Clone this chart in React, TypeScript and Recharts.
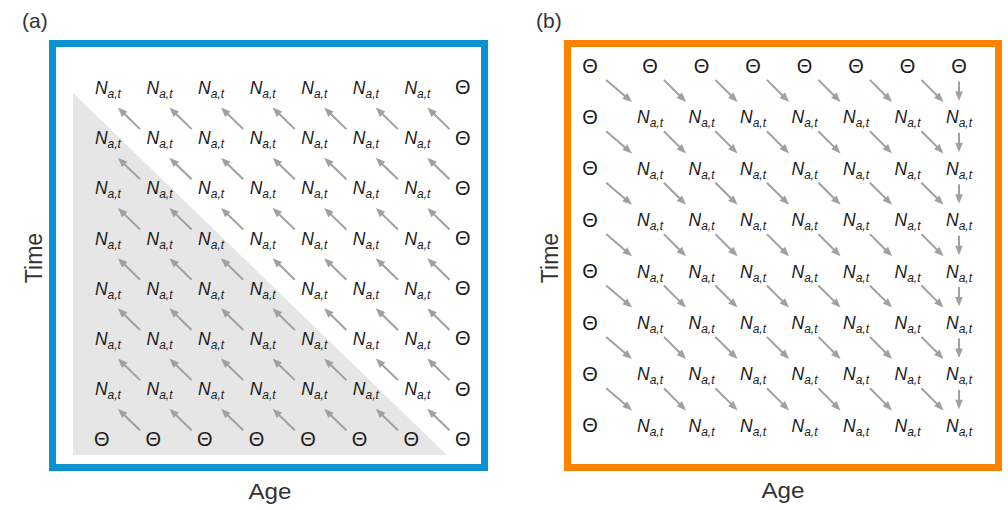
import React from "react";
import {
  ScatterChart,
  Scatter,
  XAxis,
  YAxis,
  ReferenceArea,
  ReferenceLine,
} from "recharts";

const FONT = "'Liberation Sans', Arial, Helvetica, sans-serif";

// age columns (left to right) and time rows (row 1 = top)
const ages = [1, 2, 3, 4, 5, 6, 7, 8];
const times = [1, 2, 3, 4, 5, 6, 7, 8];

// cell symbols, one string per row from the top: N = N_{a,t}, T = Theta
const gridA = [
  "NNNNNNNT",
  "NNNNNNNT",
  "NNNNNNNT",
  "NNNNNNNT",
  "NNNNNNNT",
  "NNNNNNNT",
  "NNNNNNNT",
  "TTTTTTTT",
];
const gridB = [
  "TTTTTTTT",
  "TNNNNNNN",
  "TNNNNNNN",
  "TNNNNNNN",
  "TNNNNNNN",
  "TNNNNNNN",
  "TNNNNNNN",
  "TNNNNNNN",
];

// shaded triangle in (a), in age / time units
const shadeAge = [0.4, 7.65];
const shadeTime = [0.98, 8.19];

const toCells = (grid: string[]) =>
  times.flatMap((t, r) =>
    ages.map((a, c) => ({ age: a, time: t, sym: grid[r][c] }))
  );

const cellsA = toCells(gridA);
const cellsB = toCells(gridB);

// (a): each value comes from the cell one step older, one step later
const arrowsA = times.slice(0, -1).flatMap((t, r) =>
  ages.slice(0, -1).map((a, c) => ({
    from: { x: ages[c + 1], y: times[r + 1] },
    to: { x: a, y: t },
    kind: "diag",
  }))
);

// (b): each value moves to the next age and time; the last age stays
const arrowsB = [
  ...times.slice(0, -1).flatMap((t, r) =>
    ages.slice(0, -1).map((a, c) => ({
      from: { x: a, y: t },
      to: { x: ages[c + 1], y: times[r + 1] },
      kind: "diag",
    }))
  ),
  ...times.slice(0, -1).map((t, r) => ({
    from: { x: ages[ages.length - 1], y: t },
    to: { x: ages[ages.length - 1], y: times[r + 1] },
    kind: "down",
  })),
];

const ARROW = "#a0a0a0";

function Arrow(p: any) {
  const { x1, y1, x2, y2, f0, f1, shift } = p;
  const sx0 = x1 + (shift || 0);
  const dx = x2 - sx0;
  const dy = y2 - y1;
  const sx = sx0 + dx * f0;
  const sy = y1 + dy * f0;
  const ex = sx0 + dx * f1;
  const ey = y1 + dy * f1;
  const len = Math.hypot(ex - sx, ey - sy) || 1;
  const ux = (ex - sx) / len;
  const uy = (ey - sy) / len;
  const hl = 9.5;
  const hw = 3.8;
  const bx = ex - ux * hl;
  const by = ey - uy * hl;
  return (
    <g>
      <line x1={sx} y1={sy} x2={bx + ux} y2={by + uy} stroke={ARROW} strokeWidth={2} />
      <polygon
        points={`${ex},${ey} ${bx - uy * hw},${by + ux * hw} ${bx + uy * hw},${by - ux * hw}`}
        fill={ARROW}
      />
    </g>
  );
}

function Symbol({ x, y, sym, anchor, thetaDx }: any) {
  if (sym === "T") {
    return (
      <text x={x + (thetaDx || 0)} y={y + 0.5} textAnchor={anchor} fontFamily={FONT} fontSize={20} fill="#1a1a1a">
        Θ
      </text>
    );
  }
  return (
    <text x={x} y={y} textAnchor={anchor} fontFamily={FONT} fill="#1a1a1a" fontStyle="italic">
      <tspan fontSize={17.5}>N</tspan>
      <tspan fontSize={12} dy={4}>
        a,t
      </tspan>
    </text>
  );
}

const labelStyle: React.CSSProperties = {
  position: "absolute",
  fontFamily: FONT,
  color: "#333",
  lineHeight: 1,
  whiteSpace: "nowrap",
};

export default function App() {
  return (
    <div style={{ position: "absolute", left: 0, top: 0, width: 1008, height: 510, background: "#fff" }}>
      <div style={{ ...labelStyle, left: 22, top: 10, fontSize: 21 }}>(a)</div>
      <div style={{ ...labelStyle, left: 536, top: 10, fontSize: 21 }}>(b)</div>

      <div
        style={{
          position: "absolute",
          left: 49,
          top: 40,
          width: 439,
          height: 431,
          border: "7px solid #0b93cf",
          boxSizing: "border-box",
        }}
      />
      <div
        style={{
          position: "absolute",
          left: 564,
          top: 40,
          width: 438,
          height: 431,
          border: "7px solid #ff8300",
          boxSizing: "border-box",
        }}
      />

      <div style={{ position: "absolute", left: 56, top: 47 }}>
        <ScatterChart width={425} height={417} margin={{ top: 0, right: 0, bottom: 0, left: 0 }}>
          <XAxis type="number" dataKey="age" domain={[0.07, 8.31]} allowDataOverflow hide />
          <YAxis type="number" dataKey="time" domain={[0.064, 8.371]} allowDataOverflow reversed hide />
          <ReferenceArea
            x1={shadeAge[0]}
            x2={shadeAge[1]}
            y1={shadeTime[0]}
            y2={shadeTime[1]}
            ifOverflow="visible"
            shape={(p: any) => (
              <polygon
                points={`${p.x},${p.y} ${p.x},${p.y + p.height} ${p.x + p.width},${p.y + p.height}`}
                fill="#e6e6e6"
              />
            )}
          />
          {arrowsA.map((ar, i) => (
            <ReferenceLine
              key={i}
              segment={[ar.from, ar.to]}
              ifOverflow="visible"
              shape={(p: any) => <Arrow {...p} f0={0.3} f1={0.73} />}
            />
          ))}
          <Scatter
            data={cellsA}
            isAnimationActive={false}
            shape={(p: any) => (
              <Symbol x={p.cx - 9} y={p.cy} sym={p.payload.sym} anchor="start" thetaDx={-1} />
            )}
          />
        </ScatterChart>
      </div>

      <div style={{ position: "absolute", left: 571, top: 47 }}>
        <ScatterChart width={424} height={417} margin={{ top: 0, right: 0, bottom: 0, left: 0 }}>
          <XAxis type="number" dataKey="age" domain={[0.466, 8.699]} allowDataOverflow hide />
          <YAxis type="number" dataKey="time" domain={[0.63, 8.743]} allowDataOverflow reversed hide />
          {arrowsB.map((ar, i) => (
            <ReferenceLine
              key={i}
              segment={[ar.from, ar.to]}
              ifOverflow="visible"
              shape={(p: any) => (
                <Arrow
                  {...p}
                  shift={ar.from.x === ages[0] ? -8.5 : 0}
                  f0={ar.kind === "down" ? 0.3 : 0.27}
                  f1={ar.kind === "down" ? 0.68 : 0.7}
                />
              )}
            />
          ))}
          <Scatter
            data={cellsB}
            isAnimationActive={false}
            shape={(p: any) => (
              <Symbol
                x={p.cx + (p.payload.age === ages[0] ? -8.5 : 0)}
                y={p.cy + 6}
                sym={p.payload.sym}
                anchor="middle"
              />
            )}
          />
        </ScatterChart>
      </div>

      <div
        style={{
          ...labelStyle,
          left: 34,
          top: 258,
          fontSize: 23,
          transform: "translate(-50%, -50%) rotate(-90deg)",
        }}
      >
        Time
      </div>
      <div
        style={{
          ...labelStyle,
          left: 550,
          top: 258,
          fontSize: 23,
          transform: "translate(-50%, -50%) rotate(-90deg)",
        }}
      >
        Time
      </div>
      <div style={{ ...labelStyle, left: 270, top: 481, fontSize: 22, transform: "translateX(-50%) scaleX(1.1)" }}>
        Age
      </div>
      <div style={{ ...labelStyle, left: 783, top: 480, fontSize: 22, transform: "translateX(-50%) scaleX(1.1)" }}>
        Age
      </div>
    </div>
  );
}
